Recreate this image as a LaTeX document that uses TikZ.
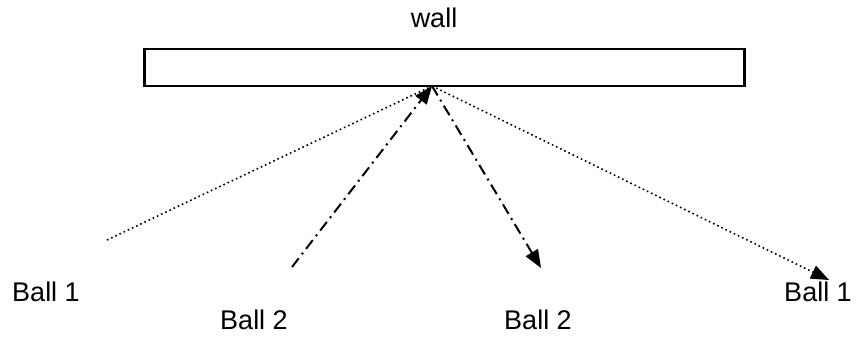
\documentclass[tikz,border=0pt]{standalone}
\usepackage{fontspec}
\setmainfont{Liberation Sans}
\usetikzlibrary{arrows.meta}

\begin{document}
\begin{tikzpicture}[
  x=1pt, y=-1pt,
  >={Triangle[length=18pt,width=14pt]},
  every node/.style={font=\fontsize{27}{32}\selectfont, inner sep=0pt},
  wallbox/.style={draw, line width=2.4pt, minimum width=600pt, minimum height=37pt},
  ballone/.style={line width=1.6pt, dash pattern=on 1.6pt off 3pt},
  balltwo/.style={line width=2pt, dash pattern=on 11pt off 5pt on 2pt off 5pt}
]
\useasboundingbox (0,0) rectangle (866,337);

% ===== Wall =====
\node[wallbox] (wall) at (444.5,67.5) {};
\node (walllabel) at (434,18) {wall};

% ===== Ball positions =====
\coordinate (hit) at (432,86);
\coordinate (B1in)  at (107,240);
\coordinate (B2in)  at (292,267);
\coordinate (B1out) at (829,280);
\coordinate (B2out) at (541,268);

% ===== Labels =====
\node (L1in)  at (46,292)  {Ball 1};
\node (L2in)  at (254,320) {Ball 2};
\node (L2out) at (538,320) {Ball 2};
\node (L1out) at (818,292) {Ball 1};

% ===== Paths =====
\draw[ballone] (B1in) -- (hit);
\draw[ballone, ->] (hit) -- (B1out);
\draw[balltwo, ->] (B2in) -- (hit);
\draw[balltwo, ->] (hit) -- (B2out);
\end{tikzpicture}
\end{document}
